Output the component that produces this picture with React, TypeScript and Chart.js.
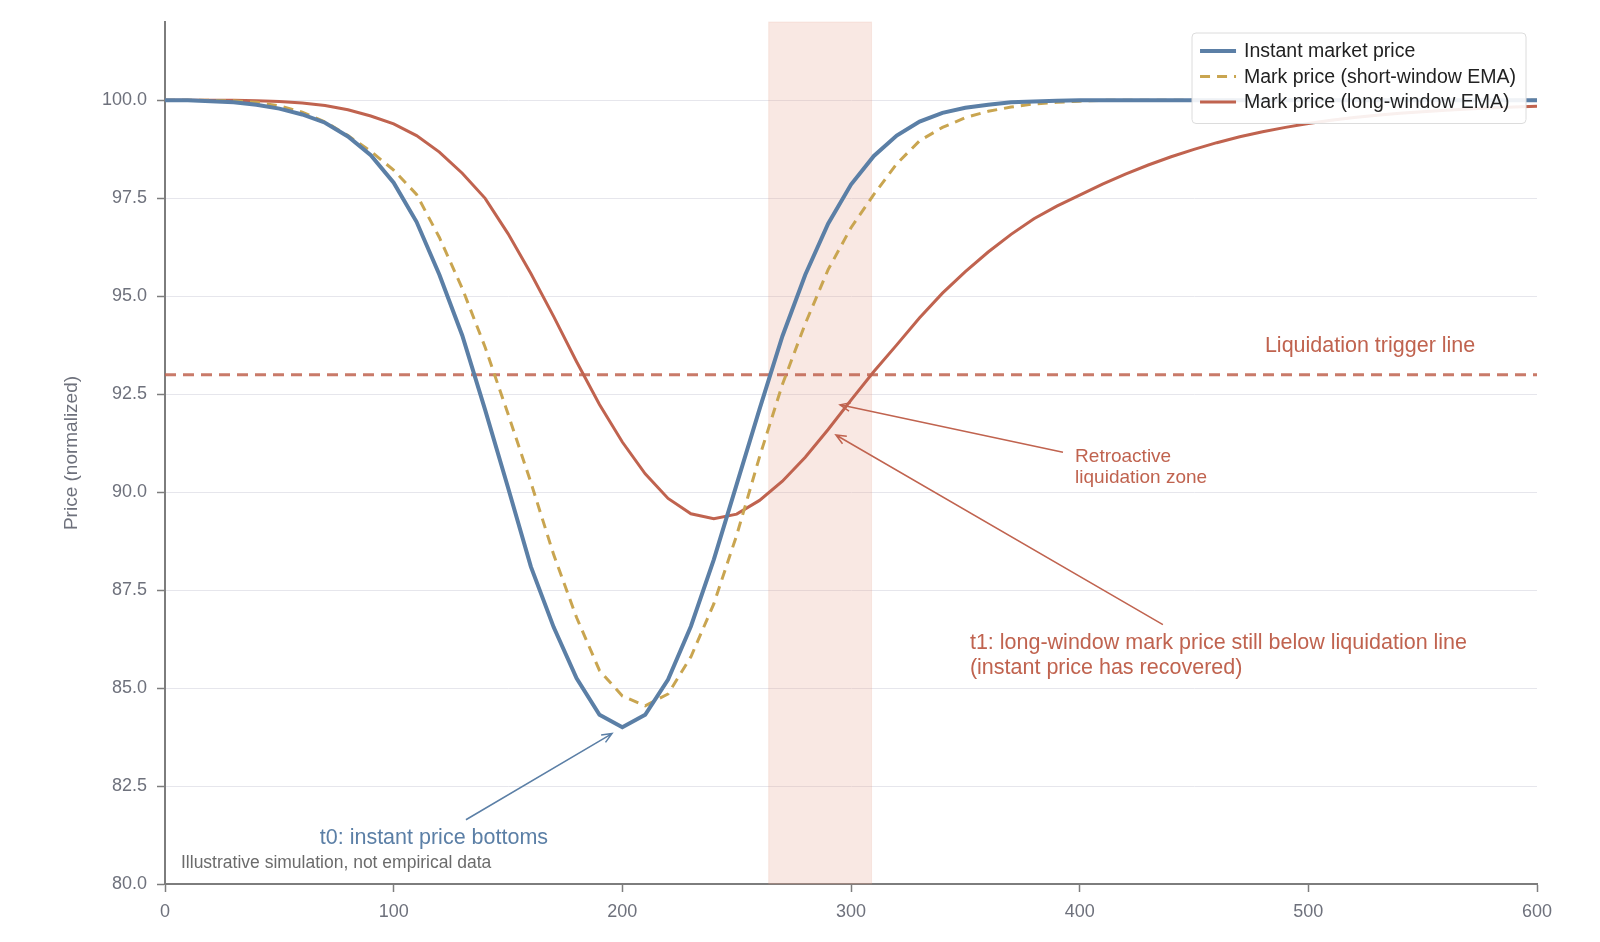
import React, { useEffect, useRef } from 'react';
import { Chart, registerables } from 'chart.js';

Chart.register(...registerables);

// time steps of the simulation
const TIME = [
  0, 10, 20, 30, 40, 50, 60, 70, 80, 90,
  100, 110, 120, 130, 140, 150, 160, 170, 180, 190,
  200, 210, 220, 230, 240, 250, 260, 270, 280, 290,
  300, 310, 320, 330, 340, 350, 360, 370, 380, 390,
  400, 410, 420, 430, 440, 450, 460, 470, 480, 490,
  500, 510, 520, 530, 540, 550, 560, 570, 580, 590, 600,
];

const INSTANT_PRICE = [
  100, 100, 99.98, 99.95, 99.89, 99.79, 99.64, 99.43, 99.08, 98.6,
  97.9, 96.9, 95.55, 94.0, 92.1, 90.12, 88.1, 86.55, 85.25, 84.32,
  84.0, 84.32, 85.22, 86.58, 88.28, 90.2, 92.12, 93.98, 95.55, 96.85,
  97.85, 98.58, 99.1, 99.46, 99.68, 99.81, 99.89, 99.95, 99.97, 99.99,
  100, 100, 100, 100, 100, 100, 100, 100, 100, 100,
  100, 100, 100, 100, 100, 100, 100, 100, 100, 100, 100,
];

const MARK_SHORT = [
  100, 100, 100, 99.99, 99.95, 99.86, 99.7, 99.45, 99.1, 98.7,
  98.22, 97.6, 96.5, 95.2, 93.7, 92.0, 90.25, 88.4, 86.8, 85.45,
  84.8, 84.55, 84.85, 85.8, 87.15, 88.9, 90.9, 92.75, 94.3, 95.68,
  96.75, 97.6, 98.38, 98.97, 99.31, 99.56, 99.72, 99.83, 99.91, 99.95,
  99.98, 100, 100, 100, 100, 100, 100, 100, 100, 100,
  100, 100, 100, 100, 100, 100, 100, 100, 100, 100, 100,
];

const MARK_LONG = [
  100, 100, 100, 100, 99.99, 99.97, 99.93, 99.87, 99.76, 99.6,
  99.4, 99.1, 98.68, 98.14, 97.5, 96.6, 95.58, 94.48, 93.33, 92.24,
  91.28, 90.47, 89.84, 89.45, 89.32, 89.44, 89.79, 90.28, 90.89, 91.6,
  92.35, 93.08, 93.76, 94.45, 95.08, 95.63, 96.13, 96.58, 96.98, 97.3,
  97.58, 97.86, 98.12, 98.35, 98.56, 98.75, 98.92, 99.07, 99.2, 99.31,
  99.41, 99.49, 99.56, 99.62, 99.67, 99.71, 99.75, 99.78, 99.81, 99.83, 99.85,
];

const SERIES_LABELS = [
  'Instant market price',
  'Mark price (short-window EMA)',
  'Mark price (long-window EMA)',
];

const LIQUIDATION_LEVEL = 93;
const ZONE_START = 264;
const ZONE_END = 309;

const Y_TICKS = [80, 82.5, 85, 87.5, 90, 92.5, 95, 97.5, 100];
const X_TICKS = [0, 100, 200, 300, 400, 500, 600];

const BLUE = '#5b7fa6';
const GOLD = '#c9a550';
const RED = '#c0634f';
const AXIS = '#7d7d7d';
const TICK_TEXT = '#6e717c';
const FONT = '"Liberation Sans", Arial, Helvetica, sans-serif';

const toPoints = (ys: number[]) => TIME.map((t, i) => ({ x: t, y: ys[i] }));

const drawArrow = (ctx: CanvasRenderingContext2D, x1: number, y1: number, x2: number, y2: number, color: string) => {
  const ang = Math.atan2(y2 - y1, x2 - x1);
  const head = 11;
  ctx.save();
  ctx.strokeStyle = color;
  ctx.lineWidth = 1.5;
  ctx.beginPath();
  ctx.moveTo(x1, y1);
  ctx.lineTo(x2, y2);
  ctx.moveTo(x2 - head * Math.cos(ang - 0.4), y2 - head * Math.sin(ang - 0.4));
  ctx.lineTo(x2, y2);
  ctx.lineTo(x2 - head * Math.cos(ang + 0.4), y2 - head * Math.sin(ang + 0.4));
  ctx.stroke();
  ctx.restore();
};

const overlayPlugin = {
  id: 'overlay',
  beforeDatasetsDraw(chart: any) {
    const { ctx, chartArea, scales } = chart;
    const x = scales.x;
    const y = scales.y;
    ctx.save();
    // retroactive liquidation zone
    const x0 = x.getPixelForValue(ZONE_START);
    const x1 = x.getPixelForValue(ZONE_END);
    ctx.fillStyle = 'rgba(228, 160, 140, 0.24)';
    ctx.fillRect(x0, chartArea.top, x1 - x0, chartArea.bottom - chartArea.top);
    ctx.strokeStyle = 'rgba(228, 160, 140, 0.18)';
    ctx.lineWidth = 1;
    ctx.strokeRect(x0, chartArea.top, x1 - x0, chartArea.bottom - chartArea.top);
    // liquidation trigger line
    const ly = y.getPixelForValue(LIQUIDATION_LEVEL);
    ctx.strokeStyle = 'rgba(192, 99, 79, 0.85)';
    ctx.lineWidth = 3;
    ctx.setLineDash([11, 7]);
    ctx.beginPath();
    ctx.moveTo(chartArea.left, ly);
    ctx.lineTo(chartArea.right, ly);
    ctx.stroke();
    ctx.restore();
  },
  afterDraw(chart: any) {
    const { ctx, chartArea, scales } = chart;
    const px = (v: number) => scales.x.getPixelForValue(v);
    const py = (v: number) => scales.y.getPixelForValue(v);

    ctx.save();
    ctx.textBaseline = 'middle';

    // annotations
    ctx.fillStyle = RED;
    ctx.font = `21.5px ${FONT}`;
    ctx.textAlign = 'center';
    ctx.fillText('Liquidation trigger line', px(527), py(93.73));

    ctx.textAlign = 'left';
    ctx.font = `19px ${FONT}`;
    ctx.fillText('Retroactive', px(398), py(90.9));
    ctx.fillText('liquidation zone', px(398), py(90.36));

    ctx.font = `21.5px ${FONT}`;
    ctx.fillText('t1: long-window mark price still below liquidation line', px(352), py(86.16));
    ctx.fillText('(instant price has recovered)', px(352), py(85.52));

    ctx.fillStyle = BLUE;
    ctx.textAlign = 'center';
    ctx.fillText('t0: instant price bottoms', px(117.6), py(81.18));

    ctx.fillStyle = '#6b6b6b';
    ctx.textAlign = 'left';
    ctx.font = `17.5px ${FONT}`;
    ctx.fillText('Illustrative simulation, not empirical data', chartArea.left + 16, py(80.54));

    drawArrow(ctx, px(131.6), py(81.64), px(195.5), py(83.84), BLUE);
    drawArrow(ctx, px(392.7), py(91.02), px(295.2), py(92.23), RED);
    drawArrow(ctx, px(436.4), py(86.62), px(293.4), py(91.46), RED);

    // legend box, top right inside the plot
    const datasets = chart.data.datasets;
    ctx.font = `19.5px ${FONT}`;
    const textW = Math.max(...datasets.map((d: any) => ctx.measureText(d.label).width));
    const sample = 36;
    const boxW = 8 + sample + 8 + textW + 10;
    const rowH = 25.5;
    const boxH = 14 + rowH * datasets.length;
    const bx = chartArea.right - 11 - boxW;
    const by = chartArea.top + 11;
    ctx.fillStyle = 'rgba(255, 255, 255, 0.9)';
    ctx.strokeStyle = '#dcdcdc';
    ctx.lineWidth = 1;
    ctx.beginPath();
    ctx.roundRect(bx, by, boxW, boxH, 4);
    ctx.fill();
    ctx.stroke();
    datasets.forEach((d: any, i: number) => {
      const cy = by + 18 + i * rowH;
      ctx.strokeStyle = d.borderColor;
      ctx.lineWidth = d.borderWidth;
      ctx.setLineDash(d.borderDash || []);
      ctx.beginPath();
      ctx.moveTo(bx + 8, cy);
      ctx.lineTo(bx + 8 + sample, cy);
      ctx.stroke();
      ctx.setLineDash([]);
      ctx.fillStyle = '#222';
      ctx.fillText(d.label, bx + 8 + sample + 8, cy + 1);
    });
    ctx.restore();
  },
};

const PriceChart: React.FC = () => {
  const canvasRef = useRef<HTMLCanvasElement>(null);
  const chartRef = useRef<Chart | null>(null);

  useEffect(() => {
    if (!canvasRef.current) return;
    if (chartRef.current) chartRef.current.destroy();

    chartRef.current = new Chart(canvasRef.current, {
      type: 'line',
      data: {
        datasets: [
          {
            label: SERIES_LABELS[0],
            data: toPoints(INSTANT_PRICE),
            borderColor: BLUE,
            borderWidth: 4,
            pointRadius: 0,
            tension: 0,
          },
          {
            label: SERIES_LABELS[1],
            data: toPoints(MARK_SHORT),
            borderColor: GOLD,
            borderWidth: 3,
            borderDash: [10, 7],
            pointRadius: 0,
            tension: 0,
          },
          {
            label: SERIES_LABELS[2],
            data: toPoints(MARK_LONG),
            borderColor: RED,
            borderWidth: 3,
            pointRadius: 0,
            tension: 0,
          },
        ],
      },
      options: {
        animation: false,
        responsive: true,
        maintainAspectRatio: false,
        layout: { padding: { left: 0, right: 63, top: 22, bottom: 0 } },
        plugins: {
          legend: { display: false },
          tooltip: { enabled: false },
        },
        scales: {
          x: {
            type: 'linear',
            min: 0,
            max: 600,
            afterFit: (scale: any) => { scale.height = 58; },
            afterBuildTicks: (scale: any) => { scale.ticks = X_TICKS.map((v) => ({ value: v })); },
            grid: { drawOnChartArea: false, tickLength: 8, tickColor: AXIS, tickWidth: 1.5 },
            border: { color: AXIS, width: 2 },
            ticks: { color: TICK_TEXT, font: { family: FONT, size: 18 }, padding: 9, maxRotation: 0 },
          },
          y: {
            min: 80,
            max: 102,
            afterFit: (scale: any) => { scale.width = 165; },
            afterBuildTicks: (scale: any) => { scale.ticks = Y_TICKS.map((v) => ({ value: v })); },
            grid: { color: '#e6e6ec', lineWidth: 1, tickLength: 8, tickColor: AXIS, tickWidth: 1.5 },
            border: { color: AXIS, width: 2 },
            ticks: {
              color: TICK_TEXT,
              font: { family: FONT, size: 18 },
              padding: 10,
              callback: (v: any) => Number(v).toFixed(1),
            },
            title: {
              display: true,
              text: 'Price (normalized)',
              color: TICK_TEXT,
              font: { family: FONT, size: 19 },
              padding: { top: 60, bottom: 0 },
            },
          },
        },
      },
      plugins: [overlayPlugin],
    });

    return () => {
      if (chartRef.current) {
        chartRef.current.destroy();
        chartRef.current = null;
      }
    };
  }, []);

  return <canvas ref={canvasRef} aria-label="Instant vs mark price chart"></canvas>;
};

export default function App() {
  return (
    <div style={{ position: 'absolute', left: 0, top: 0, width: 1600, height: 942, background: '#fff' }}>
      <PriceChart />
    </div>
  );
}
